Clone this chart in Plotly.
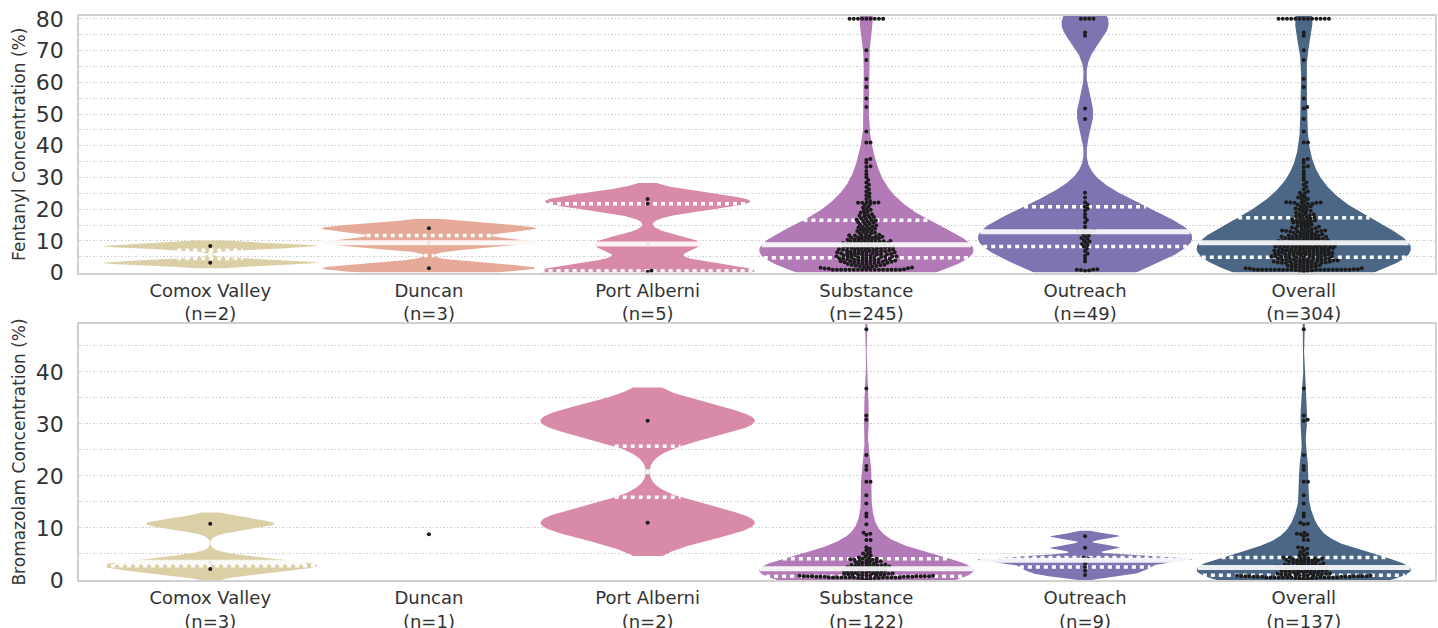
import numpy as np
import plotly.graph_objects as go

# ---------------- data ----------------
groups = ["Comox Valley", "Duncan", "Port Alberni", "Substance", "Outreach", "Overall"]
colors = ["#dbcfa5", "#e5ab98", "#d98aa9", "#b27ab6", "#8073b1", "#4c6685"]

fent_comox = [8.4, 3.1]
fent_duncan = [14.0, 9.4, 1.4]
fent_port_alberni = [23.2, 21.7, 9.0, 0.6, 0.3]
fent_substance = [
    0.9, 0.9, 0.9, 0.9, 0.9, 0.9, 0.9, 0.9, 0.9, 0.9, 0.9, 0.9, 0.9, 0.9, 0.9, 0.9, 0.9,
    1.1, 1.2, 1.3, 1.4, 1.5, 1.6, 1.7, 1.8, 1.9, 2.0, 2.1, 2.2, 2.3, 2.4, 2.5, 2.6, 2.7, 2.8, 2.9,
    3.0, 3.0, 3.1, 3.2, 3.2, 3.3, 3.4, 3.4, 3.5,
    3.6, 3.6, 3.7, 3.8, 3.8, 3.9, 4.0, 4.0, 4.1, 4.2, 4.2, 4.3, 4.4, 4.4, 4.5, 4.6,
    4.7,
    4.8, 4.8, 4.9, 4.9, 5.0, 5.0, 5.1, 5.2, 5.2, 5.3, 5.4, 5.4, 5.5, 5.6, 5.6, 5.7, 5.8, 5.8, 5.9, 6.0,
    6.0, 6.1, 6.2, 6.2, 6.3, 6.4, 6.4, 6.5, 6.6, 6.6, 6.7, 6.8, 6.8, 6.9, 7.0, 7.0, 7.1, 7.2, 7.2, 7.3,
    7.4, 7.4, 7.5, 7.6, 7.6, 7.7, 7.8, 7.8, 7.9, 8.0, 8.0, 8.1, 8.2, 8.2, 8.3, 8.4, 8.4, 8.5, 8.6, 8.7,
    8.8,
    8.9, 9.0, 9.0, 9.1, 9.2, 9.3, 9.3, 9.4, 9.5, 9.6, 9.6, 9.7, 9.8, 9.9, 10.0, 10.0, 10.1, 10.2, 10.3, 10.4,
    10.5, 10.6, 10.7, 10.8, 10.9, 11.0, 11.1, 11.2, 11.3, 11.4, 11.5, 11.6, 11.7, 11.8, 11.9,
    12.1, 12.3, 12.4, 12.6, 12.8, 13.0, 13.1, 13.3, 13.5, 13.7, 13.8, 14.0, 14.2, 14.4, 14.5,
    14.7, 14.9, 15.1, 15.3, 15.5, 15.7, 15.9, 16.1, 16.3, 16.4,
    16.5,
    16.7, 16.9, 17.1, 17.3, 17.5, 17.7, 17.9, 18.1, 18.4, 18.6, 18.9, 19.2, 19.5, 19.8, 20.1,
    20.5, 20.9, 21.3, 21.7, 22.0, 22.0, 22.0,
    22.1, 22.1, 22.6, 23.2, 23.8, 24.4, 25.0, 25.6, 26.3, 27.0, 27.7, 28.4, 29.2, 30.1,
    31.0, 32.0, 33.3, 33.5, 34.6, 35.5, 35.8,
    41.0, 41.0, 44.5, 52.2, 54.9, 58.5, 61.0, 67.0, 70.1,
    80.0, 80.0, 80.0, 80.0, 80.0, 80.0, 80.0, 80.0, 80.0,
]
fent_outreach = [
    0.6, 0.7, 0.8, 0.9, 1.0, 1.1,
    3.5, 4.4, 5.3, 6.0, 6.8, 7.6,
    8.2,
    8.6, 9.0, 9.4, 9.8, 10.2, 10.6, 10.9, 11.3, 11.7, 12.1, 12.5,
    12.9,
    13.0, 13.1, 13.2, 13.3, 14.5, 15.8, 16.6, 17.4, 18.4, 19.5, 20.2,
    20.8,
    21.4, 22.2, 23.7, 25.2, 48.4, 51.7, 74.7, 75.7, 80.0, 80.0, 80.0, 80.0,
]

brom_comox = [10.8, 3.4, 2.1]
brom_duncan = [8.8]
brom_port_alberni = [30.6, 11.0]
brom_substance = [
    0.2, 0.3, 0.3, 0.4, 0.4, 0.4,
    0.5, 0.5, 0.5, 0.5, 0.5, 0.5, 0.5, 0.5, 0.5, 0.5, 0.5, 0.5,
    0.6, 0.6, 0.6, 0.6, 0.6, 0.6, 0.7, 0.7, 0.7, 0.7, 0.7, 0.7, 0.7,
    0.8, 0.8, 0.8, 0.9, 0.9, 0.9, 1.0, 1.0, 1.0, 1.1, 1.1, 1.2, 1.2, 1.3, 1.3,
    1.4, 1.4, 1.5, 1.5, 1.6, 1.6, 1.7, 1.7, 1.8, 1.8, 1.9, 1.9, 2.0, 2.1, 2.1,
    2.2, 2.2, 2.3, 2.3, 2.4, 2.4, 2.5, 2.5, 2.6, 2.6, 2.7, 2.7, 2.8, 2.8, 2.9, 2.9,
    3.0, 3.0, 3.1, 3.2, 3.3, 3.4, 3.5, 3.5, 3.6, 3.7, 3.8, 3.9, 3.9, 4.0,
    4.1, 4.1, 4.2, 4.3, 4.5, 4.7, 5.0, 5.1, 5.4, 5.7, 6.0, 6.3, 7.7, 7.7, 8.7, 8.9,
    9.1, 10.7, 12.2, 12.8, 14.7, 16.3, 18.9, 18.9, 21.2, 21.9, 24.0, 30.8, 31.6,
    36.8, 48.2,
]
brom_outreach = [0.96, 1.8, 2.5, 3.2, 3.8, 4.1, 4.3, 6.2, 8.4]

fent_sites = [fent_comox, fent_duncan, fent_port_alberni, fent_substance, fent_outreach]
brom_sites = [brom_comox, brom_duncan, brom_port_alberni, brom_substance, brom_outreach]
fent_groups = fent_sites + [sum(fent_sites, [])]
brom_groups = brom_sites + [sum(brom_sites, [])]

fent_range = [0, 80.9]
brom_range = [0, 49.2]

# ---------------- geometry / style ----------------
W, H = 1438, 628
ML, MR, MT, MB = 79, 3, 16, 48
X_RANGE = [-0.6, 5.6]
TOP_DOM = [0.545, 1.0]
BOT_DOM = [0.0, 0.454]
plot_w = W - ML - MR
plot_h = H - MT - MB
ppx = plot_w / (X_RANGE[1] - X_RANGE[0])

BW_FACTOR = 0.23                        # kde bandwidth = factor * std * adjust
BW_ADJUST = [1.0, 1.0, 1.0, 1.5, 1.0, 1.5]
CUT = 2.0
HALF_W = 0.49
DOT_D = 4.2
SWARM_YSCALE = 1.5


def kde(vals, lo_clip, hi_clip, adj):
    v = np.asarray(vals, float)
    bw = BW_FACTOR * adj * v.std(ddof=1)
    lo = max(v.min() - CUT * bw, lo_clip)
    hi = min(v.max() + CUT * bw, hi_clip)
    grid = np.linspace(lo, hi, 600)
    dens = np.exp(-0.5 * ((grid[:, None] - v[None, :]) / bw) ** 2).sum(axis=1)
    return grid, dens / dens.max()


def swarm(vals, ppy):
    v = np.asarray(vals, float)
    order = np.argsort(v, kind="stable")
    placed = []
    offs = np.zeros(len(v))
    for i in order:
        y = v[i] * ppy
        near = [(px, py) for px, py in placed if abs(py - y) < DOT_D]
        cands = [0.0]
        for px, py in near:
            dx = np.sqrt(DOT_D ** 2 - (py - y) ** 2)
            cands += [px + dx, px - dx]
        cands.sort(key=abs)
        pick = cands[0]
        for c in cands:
            if all((c - px) ** 2 + (y - py) ** 2 >= DOT_D ** 2 - 1e-6 for px, py in near):
                pick = c
                break
        placed.append((pick, y))
        offs[i] = pick / ppx
    return offs


fig = go.Figure()


def add_panel(data, yr, dom, xa, ya):
    ppy = plot_h * (dom[1] - dom[0]) / (yr[1] - yr[0])
    for k, vals in enumerate(data):
        c = colors[k]
        v = np.asarray(vals, float)
        if len(v) >= 2:
            grid, dens = kde(v, yr[0], yr[1], BW_ADJUST[k])
            xs = np.concatenate([k + HALF_W * dens, (k - HALF_W * dens)[::-1]])
            ys = np.concatenate([grid, grid[::-1]])
            fig.add_trace(go.Scatter(x=xs, y=ys, fill="toself", fillcolor=c, mode="lines",
                                     line=dict(width=0, color=c), xaxis=xa, yaxis=ya,
                                     hoverinfo="skip"))
            q1, med, q3 = np.percentile(v, [25, 50, 75])
            for q in (q1, q3):
                hw = HALF_W * np.interp(q, grid, dens)
                fig.add_trace(go.Scatter(x=[k - hw, k + hw], y=[q, q], mode="lines",
                                         line=dict(color="white", width=3.5, dash="4px,4px"),
                                         xaxis=xa, yaxis=ya, hoverinfo="skip"))
        offs = swarm(v, ppy * SWARM_YSCALE)
        fig.add_trace(go.Scatter(x=k + offs, y=v, mode="markers",
                                 marker=dict(size=4, color="#1c1c1c", line=dict(width=0)),
                                 xaxis=xa, yaxis=ya, hoverinfo="skip"))
        if len(v) >= 2:
            hw = HALF_W * np.interp(med, grid, dens)
            fig.add_trace(go.Scatter(x=[k - hw, k + hw], y=[med, med], mode="lines",
                                     line=dict(color="white", width=5),
                                     opacity=0.9, xaxis=xa, yaxis=ya, hoverinfo="skip"))


add_panel(fent_groups, fent_range, TOP_DOM, "x", "y")
add_panel(brom_groups, brom_range, BOT_DOM, "x2", "y2")

ticktext_f = [f"{g}<br>(n={len(d)})" for g, d in zip(groups, fent_groups)]
ticktext_b = [f"{g}<br>(n={len(d)})" for g, d in zip(groups, brom_groups)]

txt = "#333333"
grid_c = "#cdcdcd"
spine = dict(showline=True, mirror=True, linecolor="#d0d0d0", linewidth=1.5,
             zeroline=False, automargin=False)
xcommon = dict(range=X_RANGE, domain=[0, 1], tickvals=list(range(6)), showgrid=False,
               ticks="", ticklabelstandoff=1, tickfont=dict(size=18, color=txt), **spine)
ycommon = dict(tick0=0, dtick=10, showgrid=True, gridcolor=grid_c, gridwidth=1,
               griddash="1.5px,2px", ticks="", tickfont=dict(size=22, color=txt),
               ticklabelstandoff=9,
               minor=dict(tick0=0, dtick=5, showgrid=True, gridcolor=grid_c, gridwidth=1,
                          griddash="1.5px,2px"), **spine)

fig.update_layout(
    width=W, height=H,
    margin=dict(l=ML, r=MR, t=MT, b=MB),
    plot_bgcolor="white", paper_bgcolor="white",
    showlegend=False,
    font=dict(family="DejaVu Sans", color=txt),
    xaxis=dict(anchor="y", ticktext=ticktext_f, **xcommon),
    xaxis2=dict(anchor="y2", ticktext=ticktext_b, **xcommon),
    yaxis=dict(domain=TOP_DOM, range=fent_range, anchor="x",
               title=dict(text="Fentanyl Concentration (%)", font=dict(size=17, color=txt), standoff=6),
               **ycommon),
    yaxis2=dict(domain=BOT_DOM, range=brom_range, anchor="x2",
                title=dict(text="Bromazolam Concentration (%)", font=dict(size=17, color=txt), standoff=6),
                **ycommon),
)

fig.write_html("out.html", config={"displayModeBar": False},
               post_script="document.body.style.margin='0px';")
